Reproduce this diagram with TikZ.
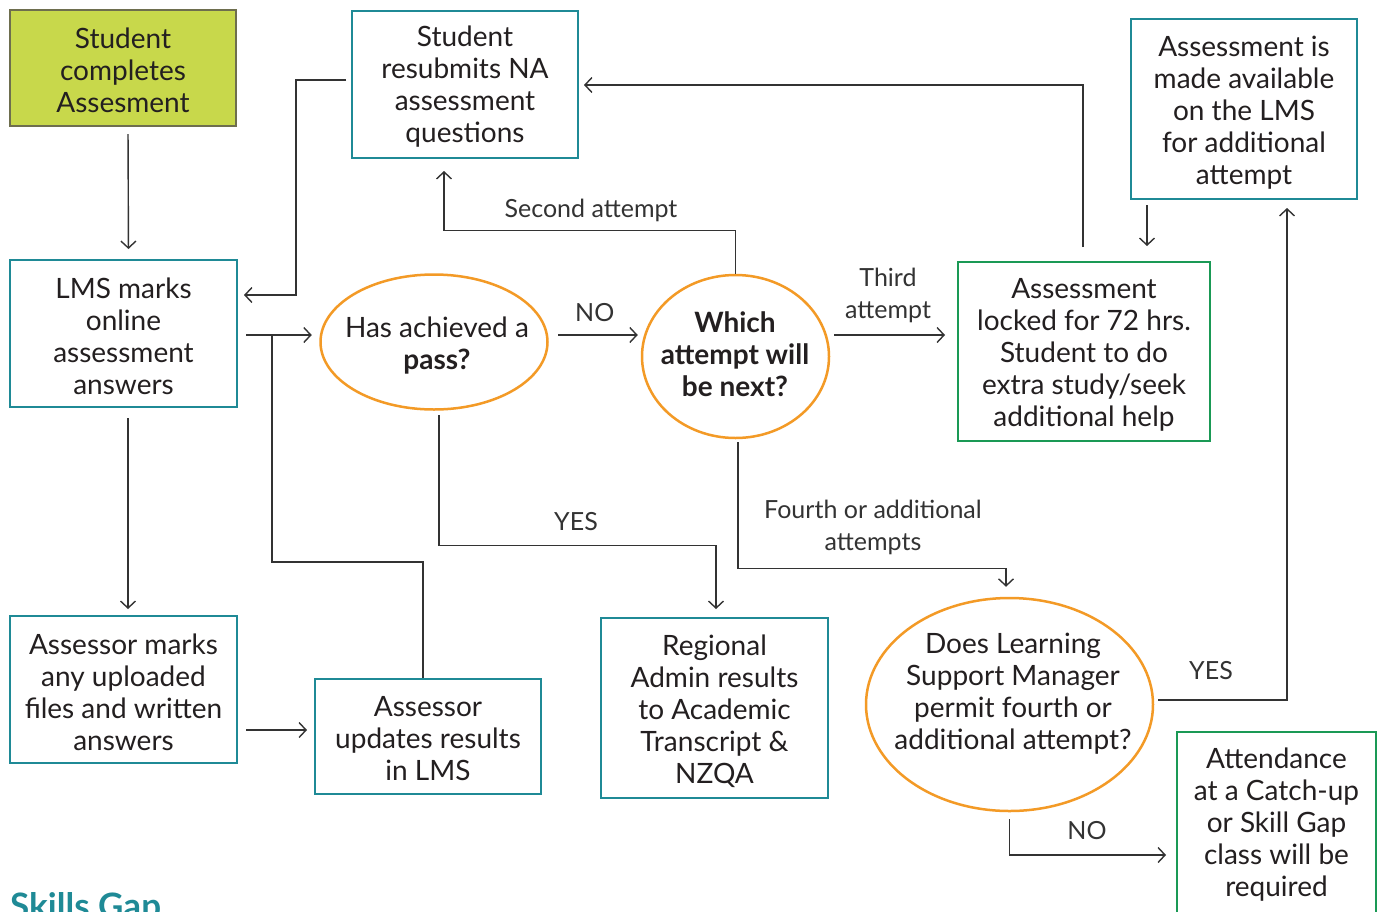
\documentclass[tikz,border=0pt]{standalone}
\usepackage{fontspec}
\setmainfont{Lato}
\usetikzlibrary{arrows.meta,shapes.geometric}
\definecolor{teal1}{HTML}{1F8A96}
\definecolor{green1}{HTML}{1A9955}
\definecolor{orange1}{HTML}{F39A26}
\definecolor{olive1}{HTML}{C8D84B}
\definecolor{olivebd}{HTML}{6E6E4E}
\definecolor{txt}{HTML}{231F20}
\definecolor{ln}{HTML}{333333}
\tikzset{
  box/.style={draw=teal1, line width=2pt, rectangle, inner sep=0pt},
  gbox/.style={box, draw=green1},
  obox/.style={box, draw=olivebd, fill=olive1},
  oval/.style={draw=orange1, line width=2.5pt, ellipse, inner sep=0pt},
  tx/.style={align=center, text=txt, font=\fontsize{28}{32}\selectfont, inner sep=0pt},
  arr/.style={draw=ln, line width=1.4pt, -{Straight Barb[length=7pt,width=15pt]}},
  con/.style={draw=ln, line width=1.4pt},
  lbl/.style={text=ln, font=\fontsize{25}{32}\selectfont, align=center, inner sep=0pt}
}
\begin{document}
\begin{tikzpicture}[x=1pt,y=-1pt]
\clip (0,0) rectangle (1384,911);
\fill[white] (0,0) rectangle (1384,911);

% boxes
\node[obox, minimum width=226pt, minimum height=116pt] (sc) at (123,68) {};
\node[tx] (sct) at (123,70) {Student\\completes\\Assesment};
\node[box, minimum width=226pt, minimum height=147pt] (rs) at (465,84.5) {};
\node[tx] (rst) at (465,87) {Student\\resubmits NA\\assessment\\questions};
\node[box, minimum width=226pt, minimum height=180pt] (av) at (1244,109) {};
\node[tx] (avt) at (1244,113) {Assessment is\\made available\\on the LMS\\for additional\\attempt};
\node[box, minimum width=227pt, minimum height=147pt] (lms) at (123.5,333.5) {};
\node[tx] (lmst) at (123.5,336) {LMS marks\\online\\assessment\\answers};
\node[box, minimum width=227pt, minimum height=147pt] (am) at (123.5,689.5) {};
\node[tx] (amt) at (123.5,692) {Assessor marks\\any uploaded\\files and written\\answers};
\node[box, minimum width=226pt, minimum height=115pt] (au) at (428,736.5) {};
\node[tx] (aut) at (428,739) {Assessor\\updates results\\in LMS};
\node[box, minimum width=227pt, minimum height=180pt] (ra) at (714.5,708) {};
\node[tx] (rat) at (714.5,711) {Regional\\Admin results\\to Academic\\Transcript \&\\NZQA};
\node[gbox, minimum width=252pt, minimum height=179pt] (lk) at (1084,351.5) {};
\node[tx] (lkt) at (1084,355) {Assessment\\locked for 72 hrs.\\Student to do\\extra study/seek\\additional help};
\node[gbox, minimum width=199pt, minimum height=184pt] (at) at (1276.5,824) {};
\node[tx] (att) at (1276.5,825) {Attendance\\at a Catch-up\\or Skill Gap\\class will be\\required};

% ovals
\node[oval, minimum width=227pt, minimum height=135pt] (pass) at (434,342) {};
\node[tx] (passt) at (437,346) {Has achieved a\\\textbf{pass?}};
\node[oval, minimum width=187pt, minimum height=163pt] (wh) at (735.5,356.5) {};
\node[tx] (wht) at (735,354) {\textbf{Which}\\\textbf{attempt will}\\\textbf{be next?}};
\node[oval, minimum width=287pt, minimum height=213pt] (ds) at (1009.5,704.5) {};
\node[tx] (dst) at (1013,694) {Does Learning\\Support Manager\\permit fourth or\\additional attempt?};

% Skills Gap heading
\node[anchor=base west, inner sep=0pt, text=teal1, font=\fontsize{35}{38}\selectfont\bfseries] (sg) at (10,918) {Skills Gap};

% connectors
\draw[arr, shorten <=7pt, shorten >=10pt] ([xshift=5pt]sc.south) -- ([xshift=5pt]lms.north);
\draw[arr, shorten <=5pt, shorten >=6pt] ([yshift=4.5pt]rs.west) -- ++(-55,0) |- ([yshift=38.5pt]lms.east);
\draw[arr, shorten <=8pt, shorten >=7.5pt] ([yshift=-1.5pt]lms.east) -- ([yshift=-1.5pt]lms.east -| pass.west);
\coordinate (j1) at (272,335);
\draw[con] ([xshift=-5pt]au.north) -- ++(0,-116) -| (j1);
\draw[arr, shorten <=10pt, shorten >=6pt] ([xshift=4.5pt]lms.south) -- ([xshift=4.5pt]am.north);
\draw[arr, shorten <=8pt, shorten >=7pt] ([yshift=-40.5pt]am.east) -- ([yshift=-40.5pt]am.east -| au.west);

\draw[arr, shorten <=9.5pt, shorten >=3pt] ([yshift=7pt]pass.east) -- node[lbl, above=13pt] (lno) {NO} ([yshift=7pt]pass.east -| wh.west);
\draw[arr, shorten <=4.5pt, shorten >=8pt] ([xshift=5pt]pass.south) -- ++(0,134.5) -| ([xshift=1.5pt]ra.north);
\node[lbl] (lyes) at (576,522) {YES};

\draw[arr, shorten >=12pt] (wh.north) -- ++(0,-43) -| ([xshift=-21pt]rs.south);
\node[lbl] (lsec) at (591,210) {Second attempt};
\draw[arr, shorten <=4pt, shorten >=12pt] ([yshift=21.5pt]wh.east) -- ([yshift=21.5pt]wh.east -| lk.west);
\node[lbl] (lthird) at (888,295) {Third\\attempt};
\draw[arr, shorten <=3pt, shorten >=10pt] ([xshift=2.5pt]wh.south) -- ++(0,129) -| ([xshift=-3.5pt]ds.north);
\node[lbl] (lfourth) at (873,527) {Fourth or additional\\attempts};

\draw[arr, shorten <=14pt, shorten >=5pt] ([xshift=-1pt]lk.north) |- ([yshift=-0.5pt]rs.east);
\draw[arr, shorten <=5pt, shorten >=15pt] ([xshift=-97pt]av.south) -- ([xshift=-97pt]av.south |- lk.north);
\draw[arr, shorten <=4pt, shorten >=8pt] ([yshift=4.5pt]ds.east) -| ([xshift=43pt]av.south);
\node[lbl] (lyes2) at (1211,671) {YES};
\draw[arr, shorten <=7pt, shorten >=10pt] (ds.south) |- ([yshift=-31pt]at.west);
\node[lbl] (lno2) at (1087,831) {NO};
\end{tikzpicture}
\end{document}
